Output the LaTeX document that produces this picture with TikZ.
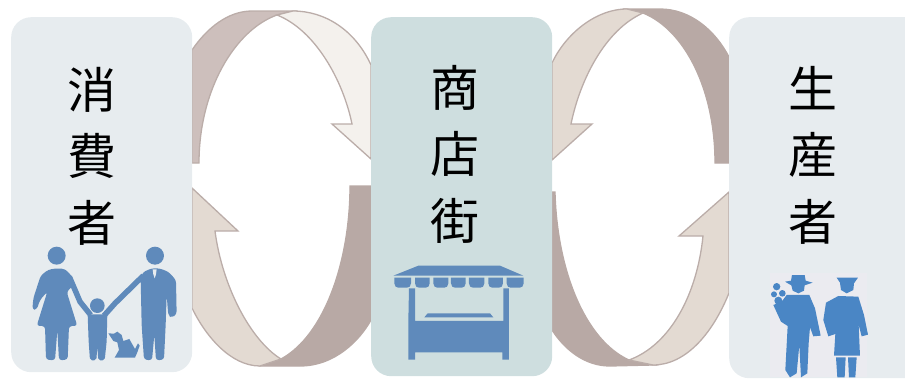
\documentclass[tikz,border=0pt]{standalone}
\usepackage{fontspec}
\newfontfamily\cjk{Noto Sans CJK JP}
\definecolor{boxpale}{HTML}{E7ECEF}
\definecolor{boxteal}{HTML}{CEDEDF}
\definecolor{arrowdark}{HTML}{B8A9A5}
\definecolor{arrowmid}{HTML}{CDBFBC}
\definecolor{arrowlight}{HTML}{E3DAD2}
\definecolor{arrowpale}{HTML}{F4F1ED}
\definecolor{arrowline}{HTML}{BBADA9}
\definecolor{icon}{HTML}{5F8ABB}
\definecolor{farmer}{HTML}{4A86C5}
\definecolor{farmerbg}{HTML}{EBEBF0}
\tikzset{
  panel/.style={rounded corners=20pt,inner sep=0pt,minimum width=#1,anchor=north west},
  sweep/.style={draw=arrowline,line width=1.3pt,line join=miter},
  kanji/.style={font=\cjk\fontsize{49}{66.5}\selectfont,align=center,inner sep=0pt,text=black},
  thumb/.style={x=0.3333pt,y=-0.3333pt}
}
\begin{document}
\begin{tikzpicture}[x=1pt,y=-1pt]
\useasboundingbox (0,0) rectangle (905,378);
% arrows, left pair
\path[sweep,fill=arrowmid] (192,163) -- (199,163) .. controls (199,90) and (235,30) .. (277,15) -- (293,11) -- (252,11) .. controls (228,11) and (207,28) .. (192,50) -- cycle;
\path[sweep,fill=arrowpale] (277,15) -- (293,11) .. controls (325,11) and (355,30) .. (371,65) -- (371,159) -- (332,124) -- (352,124) .. controls (343,80) and (315,30) .. (277,15) -- cycle;
\path[sweep,draw=arrowdark,fill=arrowdark] (371,186) -- (350,186) .. controls (350,260) and (325,335) .. (281,359) -- (262,366) -- (300,366) .. controls (335,366) and (360,340) .. (371,320) -- cycle;
\path[sweep,fill=arrowlight] (192,188) -- (238,231) -- (215,231) .. controls (222,285) and (250,340) .. (281,359) -- (260,366) .. controls (230,366) and (205,335) .. (192,308) -- cycle;
% arrows, right pair
\path[sweep,draw=arrowdark,fill=arrowdark] (643,13) .. controls (685,30) and (715,90) .. (715,163) -- (729,163) -- (729,57) .. controls (715,30) and (690,9) .. (660,9) -- (627,9) -- cycle;
\path[sweep,fill=arrowlight] (552,160) -- (592,124) -- (571,124) .. controls (580,80) and (605,30) .. (643,13) -- (627,9) .. controls (595,9) and (565,35) .. (552,63) -- cycle;
\path[sweep,draw=arrowdark,fill=arrowdark] (552,192) -- (555,192) .. controls (557,270) and (585,340) .. (629,360) -- (653,365) -- (610,366) .. controls (585,366) and (565,350) .. (552,330) -- cycle;
\path[sweep,fill=arrowlight] (629,360) .. controls (670,345) and (697,295) .. (703,236) -- (679,236) -- (729,192) -- (729,293) .. controls (712,335) and (685,365) .. (653,365) -- cycle;
% panels
\node[panel=181pt,minimum height=355pt,fill=boxpale] (consumer) at (11,17) {};
\node[panel=181pt,minimum height=359pt,fill=boxteal] (shop) at (371,17) {};
\node[panel=196pt,minimum height=361pt,fill=boxpale] (producer) at (729,17) {};
% labels
\node[kanji] (tc) at (92,156) {消\\費\\者};
\node[kanji] (ts) at (455,154) {商\\店\\街};
\node[kanji] (tp) at (813,155) {生\\産\\者};
% family
\begin{scope}[shift={(20,235)},thumb]
\fill[icon] (110,62) circle[radius=27];
\fill[icon] (405,62) circle[radius=27];
\fill[icon] (232,212) circle[radius=22];
% woman
\fill[icon,rounded corners=3pt] (85,104) -- (110,100) -- (135,102) -- (155,122) -- (162,150) -- (140,170) -- (172,273) -- (147,273) -- (143,374) -- (117,376) -- (112,285) -- (105,376) -- (78,374) -- (75,273) -- (50,273) -- (82,170) -- (60,195) -- (50,224) -- (37,224) -- (40,190) -- (62,122) -- cycle;
\draw[icon,line width=5.5pt] (148,125) -- (180,200) -- (212,240);
% child
\fill[icon,rounded corners=2pt] (203,238) -- (262,238) -- (260,320) -- (254,376) -- (235,376) -- (232,335) -- (229,376) -- (210,376) -- (206,320) -- cycle;
\draw[icon,line width=5.5pt] (252,242) -- (285,205) -- (370,122);
% man
\fill[icon,rounded corners=3pt] (368,112) -- (395,100) -- (418,100) -- (445,110) -- (468,135) -- (470,238) -- (456,248) -- (445,242) -- (440,180) -- (437,270) -- (432,374) -- (408,376) -- (403,300) -- (396,376) -- (372,374) -- (365,270) -- (362,130) -- cycle;
\fill[boxpale] (398,103) -- (410,103) -- (408,118) -- (404,130) -- (400,118) -- cycle;
% dog
\fill[icon] (265,295) -- (282,296) -- (292,290) -- (305,300) -- (310,318) -- (328,312) -- (345,342) -- (354,325) -- (359,332) -- (352,352) -- (345,368) -- (284,368) -- (297,345) -- (292,322) -- (280,318) -- cycle;
\end{scope}
% stall
\begin{scope}[shift={(385,255)},thumb]
\fill[icon] (25,62) -- (100,32) -- (345,32) -- (415,62) -- cycle;
\foreach \a/\b in {28/78,90/134,145/190,198/242,252/298,310/354,365/416}
  \fill[icon] (\a,68) -- (\b,68) -- (\b,85) .. controls (\b,94) and ({\b-6},98) .. ({\b-12},98) -- ({\a+12},98) .. controls ({\a+6},98) and (\a,94) .. (\a,85) -- cycle;
\fill[icon] (72,100) -- (90,100) -- (90,198) -- (355,198) -- (355,100) -- (372,100) -- (372,314) -- (352,314) -- (352,292) -- (90,292) -- (90,314) -- (70,314) -- (70,198) -- cycle;
\fill[icon] (118,187) -- (128,175) -- (315,175) -- (325,187) -- cycle;
\end{scope}
% farmers
\begin{scope}[shift={(720,240)},thumb]
\fill[farmerbg] (150,100) rectangle (440,412);
\fill[farmer] (195,125) -- (213,122) -- (216,105) -- (254,105) -- (257,122) -- (278,128) -- (254,136) -- (252,152) -- (235,160) -- (218,152) -- (214,136) -- cycle;
\fill[farmer] (200,165) -- (268,165) -- (285,205) -- (302,287) -- (280,289) -- (270,262) -- (266,310) -- (262,400) -- (243,412) -- (238,315) -- (230,400) -- (210,412) -- (196,390) -- (203,258) -- (183,245) -- (160,195) -- (185,185) -- cycle;
\fill[farmer] (170,140) circle[radius=11] (162,163) circle[radius=9] (187,160) circle[radius=10] (175,182) circle[radius=12];
\fill[farmer] (350,113) -- (414,113) -- (402,130) -- (400,150) -- (380,160) -- (363,150) -- (360,128) -- cycle;
\fill[farmer] (355,168) -- (415,170) -- (432,225) -- (444,284) -- (425,289) -- (416,255) -- (420,347) -- (342,347) -- (346,282) -- (325,289) -- (310,240) -- (318,188) -- cycle;
\fill[farmer] (348,352) -- (377,352) -- (374,412) -- (352,412) -- cycle;
\fill[farmer] (384,352) -- (410,352) -- (406,412) -- (387,412) -- cycle;
\end{scope}
\end{tikzpicture}
\end{document}
